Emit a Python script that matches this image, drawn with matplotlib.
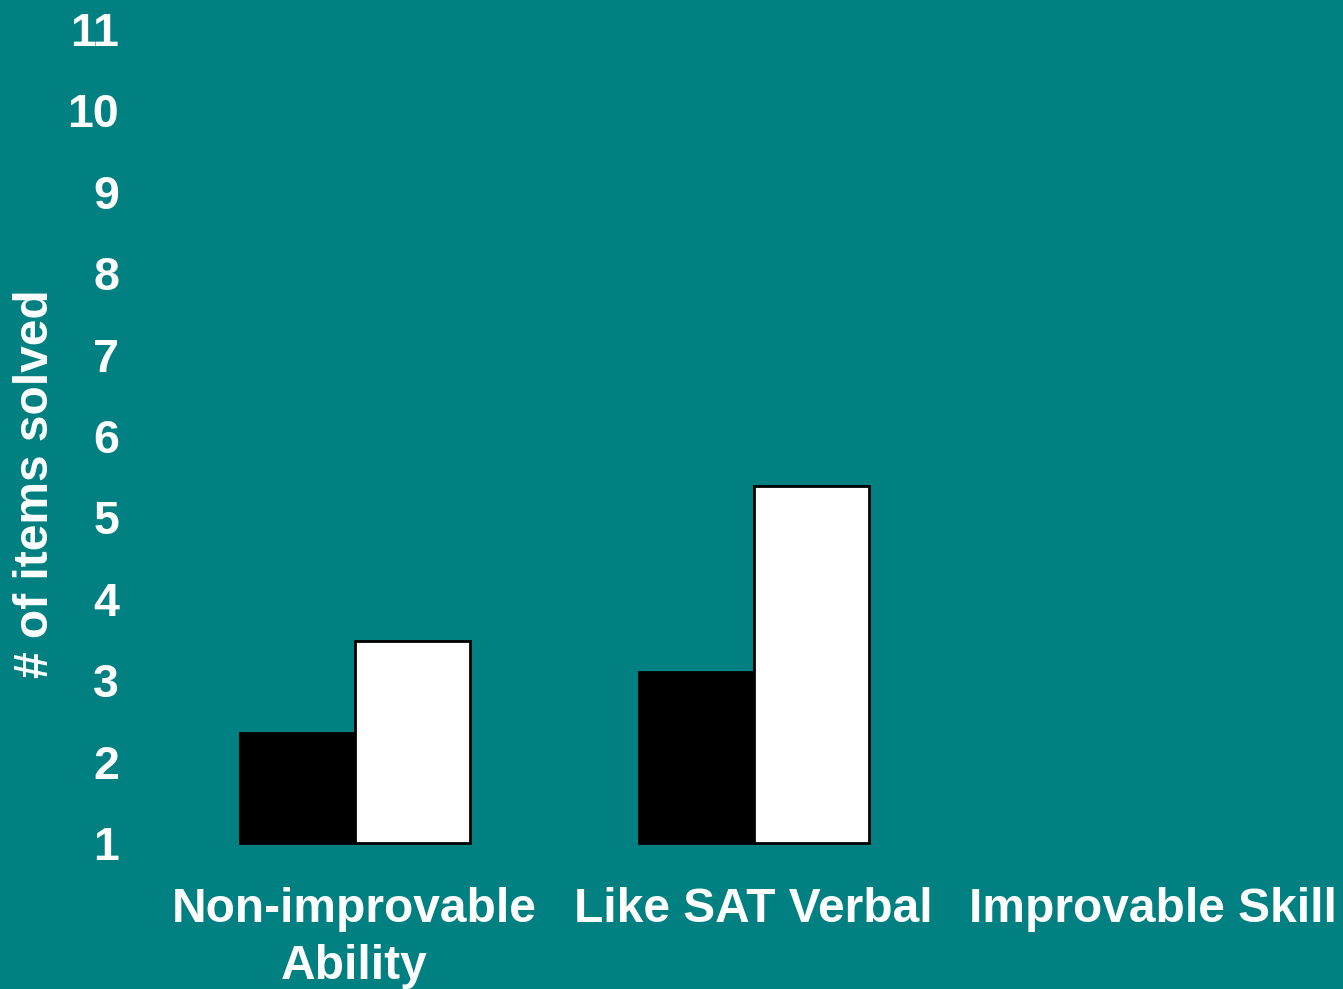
import numpy as np
import matplotlib.pyplot as plt

plt.rcParams['font.family'] = ['Liberation Sans', 'DejaVu Sans']
plt.rcParams['font.weight'] = 'bold'

# categories and group means
categories = ["Non-improvable\nAbility", "Like SAT Verbal", "Improvable Skill"]
dark_vals = [2.35, 3.1, np.nan]
light_vals = [3.48, 5.38, np.nan]
y_ticks = list(range(1, 12))

BG = "#008080"
W, H = 1343, 989

fig = plt.figure(figsize=(W / 100, H / 100), dpi=100, facecolor=BG)
ax = fig.add_axes([155 / W, (H - 843) / H, (W - 155) / W, (843 - 29) / H])
ax.set_facecolor(BG)

x = np.arange(len(categories))
width = 0.288
base = 1
ax.bar(x - width / 2, np.array(dark_vals) - base, width, bottom=base,
       color="black", edgecolor="black", linewidth=2, clip_on=False)
ax.bar(x + width / 2, np.array(light_vals) - base, width, bottom=base,
       color="white", edgecolor="black", linewidth=2, clip_on=False)

ax.set_xlim(-0.5, 2 + (W - 1153) / 399)
ax.set_ylim(1, 11)
ax.set_yticks(y_ticks)
ax.set_xticks(x)
ax.set_xticklabels(categories, fontsize=34.5, color="white", linespacing=1.32)
ax.tick_params(axis="y", length=0, pad=26, labelsize=33.5, labelcolor="white")
ax.tick_params(axis="x", length=0, pad=32)
for s in ax.spines.values():
    s.set_visible(False)

fig.text(36 / W, 1 - 484 / H, "# of items solved", rotation=90,
         ha="center", va="center", fontsize=34.5, color="white")

fig.savefig("out.png", dpi=100, facecolor=BG)
